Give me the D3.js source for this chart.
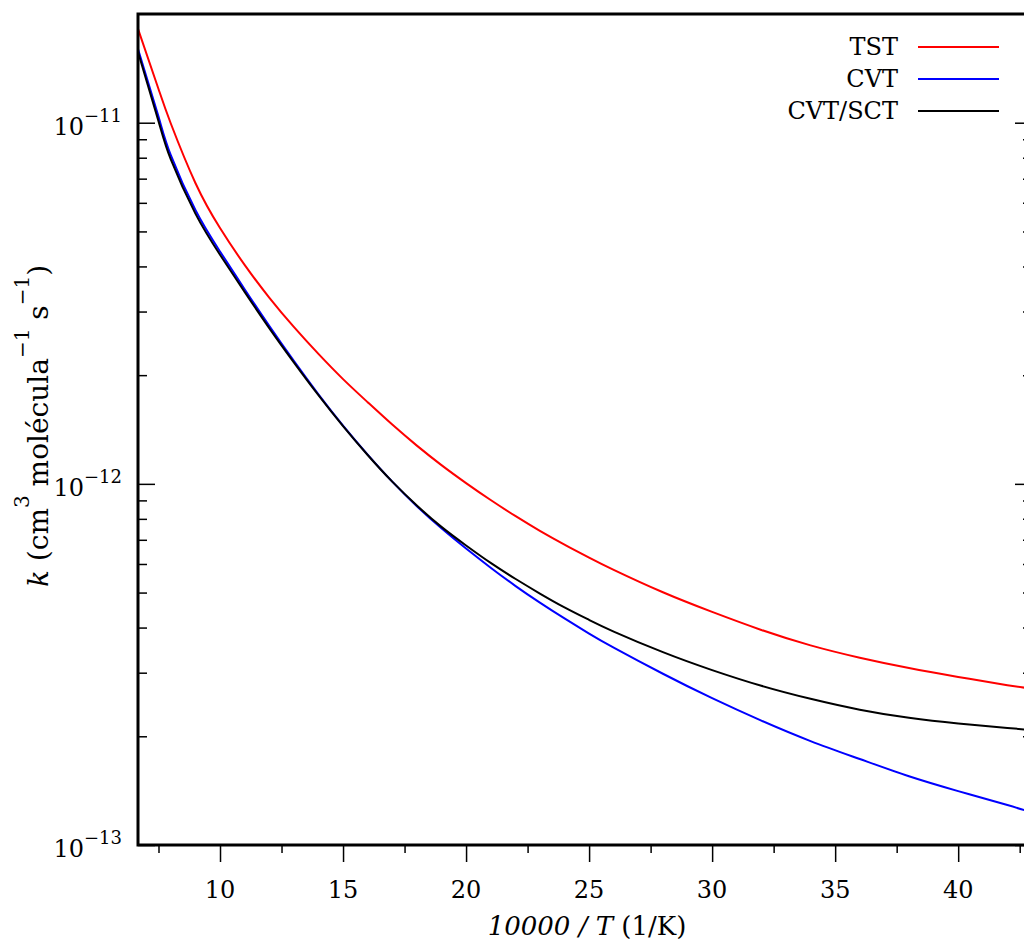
<!DOCTYPE html>
<html>
<head>
<meta charset="utf-8">
<script src="https://cdn.jsdelivr.net/npm/d3@7"></script>
<style>
  body { margin: 0; background: #fff; overflow: hidden; }
  svg { display: block; font-family: "DejaVu Serif", serif; }
  .axis path { display: none; }
  .axis line { stroke: #000; stroke-width: 1.5; }
</style>
</head>
<body>
<div id="chart"></div>
<script>
// 10000/T values (1/K)
const invT = [6.667, 7.5, 8, 9, 10, 11, 12, 13, 14, 15, 16, 17, 18, 19, 20,
  21, 22, 23, 24, 25, 26, 28, 30, 32, 34, 36, 38, 40, 42, 43];

// rate constants (cm3 molecule-1 s-1)
const kTST = [1.82e-11, 1.24e-11, 9.95e-12, 6.81e-12, 5.11e-12, 4.04e-12, 3.28e-12,
  2.72e-12, 2.29e-12, 1.95e-12, 1.683e-12, 1.459e-12, 1.276e-12, 1.127e-12, 1.005e-12,
  9.02e-13, 8.15e-13, 7.41e-13, 6.79e-13, 6.25e-13, 5.78e-13, 5.01e-13, 4.42e-13,
  3.94e-13, 3.57e-13, 3.30e-13, 3.09e-13, 2.92e-13, 2.77e-13, 2.71e-13];
const kCVT = [1.60e-11, 1.04e-11, 8.13e-12, 5.73e-12, 4.40e-12, 3.46e-12, 2.74e-12,
  2.19e-12, 1.77e-12, 1.45e-12, 1.205e-12, 1.014e-12, 8.67e-13, 7.53e-13, 6.62e-13,
  5.86e-13, 5.22e-13, 4.69e-13, 4.24e-13, 3.85e-13, 3.52e-13, 2.98e-13, 2.55e-13,
  2.21e-13, 1.94e-13, 1.73e-13, 1.55e-13, 1.41e-13, 1.29e-13, 1.23e-13];
const kCVTSCT = [1.57e-11, 1.01e-11, 7.91e-12, 5.60e-12, 4.31e-12, 3.40e-12, 2.70e-12,
  2.17e-12, 1.76e-12, 1.445e-12, 1.202e-12, 1.014e-12, 8.71e-13, 7.60e-13, 6.75e-13,
  6.04e-13, 5.46e-13, 4.97e-13, 4.55e-13, 4.20e-13, 3.90e-13, 3.42e-13, 3.05e-13,
  2.76e-13, 2.54e-13, 2.37e-13, 2.25e-13, 2.17e-13, 2.11e-13, 2.08e-13];

const seriesNames = ["TST", "CVT", "CVT/SCT"];
const seriesColors = ["#ff0000", "#0000ff", "#000000"];

const xMajor = [10, 15, 20, 25, 30, 35, 40];
const xMinor = [7.5, 12.5, 17.5, 22.5, 27.5, 32.5, 37.5, 42.5];
const yMajor = [1e-13, 1e-12, 1e-11];
const yMajorLabels = ["\u221213", "\u221212", "\u221211"];
const yMinor = [2e-13, 3e-13, 4e-13, 5e-13, 6e-13, 7e-13, 8e-13, 9e-13,
  2e-12, 3e-12, 4e-12, 5e-12, 6e-12, 7e-12, 8e-12, 9e-12];

const margin = {top: 14, right: -8, bottom: 96, left: 138};
const W = 1024, H = 941;
const width = W - margin.left - margin.right;
const height = H - margin.top - margin.bottom;

const svg = d3.select("#chart").append("svg")
  .attr("width", W)
  .attr("height", H);

const g = svg.append("g")
  .attr("transform", "translate(" + margin.left + "," + margin.top + ")");

const x = d3.scaleLinear().domain([6.667, 43.0]).range([0, width]);
const y = d3.scaleLog().domain([1e-13, 2e-11]).range([height, 0]);

g.append("clipPath").attr("id", "clip")
  .append("rect").attr("width", width).attr("height", height);

// bottom axis: ticks point outward
g.append("g").attr("class", "axis")
  .attr("transform", "translate(0," + height + ")")
  .call(d3.axisBottom(x).tickValues(xMajor).tickSize(17).tickFormat(""));
g.append("g").attr("class", "axis")
  .attr("transform", "translate(0," + height + ")")
  .call(d3.axisBottom(x).tickValues(xMinor).tickSize(8).tickFormat(""));

g.selectAll(".xlab").data(xMajor).enter().append("text")
  .attr("x", d => x(d))
  .attr("y", height + 53)
  .attr("text-anchor", "middle")
  .attr("font-size", 24)
  .text(d => d);

// left and right axes: ticks point inward
[["axisLeft", 0], ["axisRight", width]].forEach(function (a) {
  g.append("g").attr("class", "axis")
    .attr("transform", "translate(" + a[1] + ",0)")
    .call(d3[a[0]](y).tickValues(yMajor).tickSize(-17).tickFormat(""));
  g.append("g").attr("class", "axis")
    .attr("transform", "translate(" + a[1] + ",0)")
    .call(d3[a[0]](y).tickValues(yMinor).tickSize(-9).tickFormat(""));
});

const ylab = g.selectAll(".ylab").data(yMajor).enter().append("text")
  .attr("x", -16)
  .attr("y", d => y(d) + 12)
  .attr("text-anchor", "end")
  .attr("font-size", 24);
ylab.append("tspan").text("10");
ylab.append("tspan")
  .attr("dy", -13)
  .attr("font-size", 18)
  .text((d, i) => yMajorLabels[i]);

// curves
const series = [kTST, kCVT, kCVTSCT];
const line = d3.line()
  .x(d => x(d[0]))
  .y(d => y(d[1]))
  .curve(d3.curveNatural);

const lines = g.append("g").attr("clip-path", "url(#clip)");
series.forEach(function (vals, i) {
  lines.append("path")
    .datum(invT.map((t, j) => [t, vals[j]]))
    .attr("fill", "none")
    .attr("stroke", seriesColors[i])
    .attr("stroke-width", 2)
    .attr("d", line);
});

// frame
g.append("rect")
  .attr("width", width)
  .attr("height", height)
  .attr("fill", "none")
  .attr("stroke", "#000")
  .attr("stroke-width", 3);

// legend
const legend = g.append("g").attr("transform", "translate(760," + (47 - margin.top) + ")");
seriesNames.forEach(function (name, i) {
  legend.append("text")
    .attr("x", 0)
    .attr("y", i * 32 + 8)
    .attr("text-anchor", "end")
    .attr("font-size", 24)
    .text(name);
  legend.append("line")
    .attr("x1", 20).attr("x2", 101)
    .attr("y1", i * 32).attr("y2", i * 32)
    .attr("stroke", seriesColors[i])
    .attr("stroke-width", 2);
});

// axis titles
const xt = svg.append("text")
  .attr("x", 587)
  .attr("y", 935)
  .attr("text-anchor", "middle")
  .attr("font-size", 26);
xt.append("tspan").attr("font-style", "italic").text("10000 / T");
xt.append("tspan").text(" (1/K)");

const yt = svg.append("text")
  .attr("transform", "translate(48,426) rotate(-90)")
  .attr("text-anchor", "middle")
  .attr("font-size", 28);
yt.append("tspan").attr("font-style", "italic").text("k");
yt.append("tspan").text(" (cm");
yt.append("tspan").attr("dy", -19).attr("font-size", 20).text("3");
yt.append("tspan").attr("dy", 19).text(" molécula");
yt.append("tspan").attr("dy", -19).attr("font-size", 20).text("\u22121");
yt.append("tspan").attr("dy", 19).text(" s");
yt.append("tspan").attr("dy", -19).attr("font-size", 20).text("\u22121");
yt.append("tspan").attr("dy", 19).text(")");
</script>
</body>
</html>
